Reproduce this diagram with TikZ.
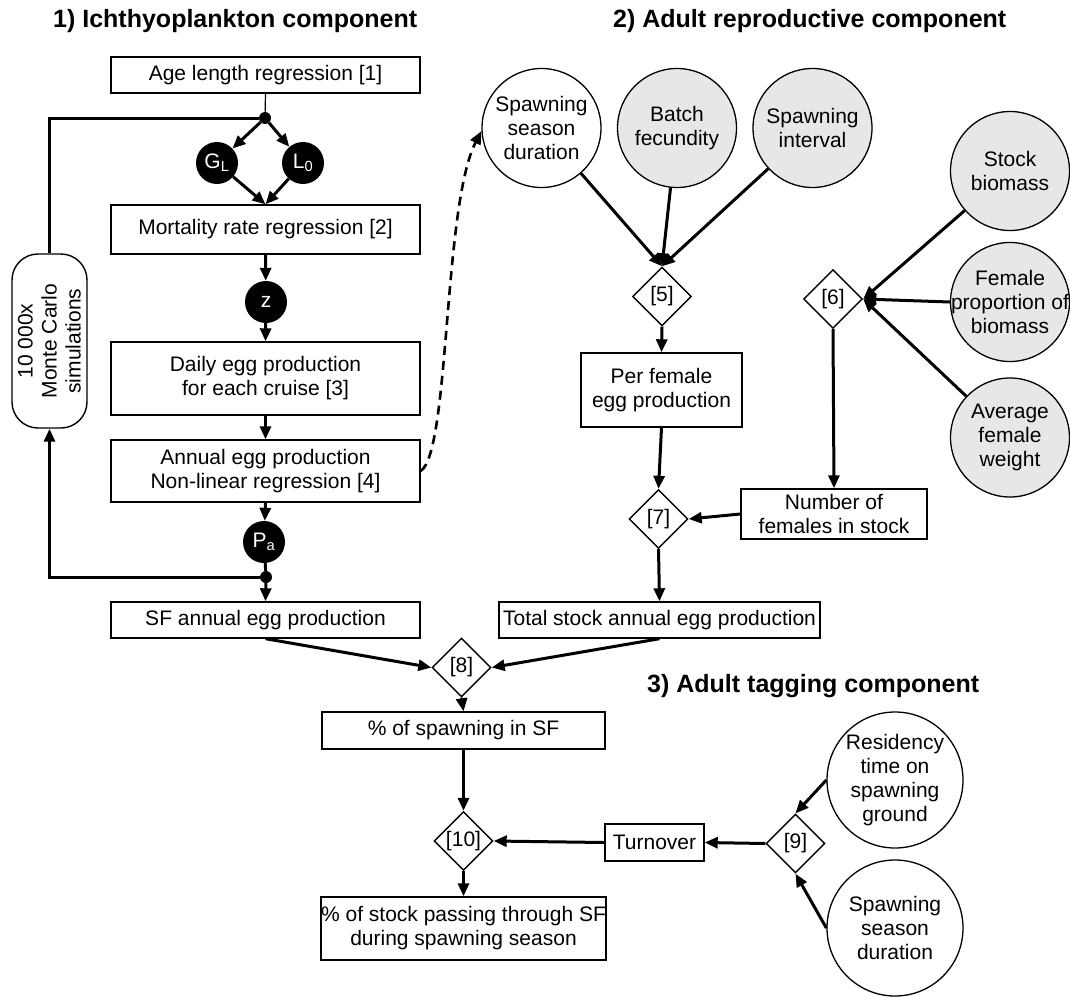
\documentclass[tikz,border=0pt]{standalone}
\usepackage{fontspec}
\setmainfont{Liberation Sans}
\usetikzlibrary{arrows.meta,shapes.geometric}
\definecolor{cgray}{RGB}{230,231,232}
\newcommand\mytxt{\fontsize{21}{24}\selectfont}
\newcommand\mytitle{\fontsize{25}{30}\selectfont\bfseries}
\begin{document}
\begin{tikzpicture}[x=1pt,y=-1pt,
  rbox/.style={draw, line width=1.4pt, inner sep=0pt, align=center, font=\mytxt},
  lab/.style={align=center, font=\mytxt, inner sep=0pt},
  circ/.style={circle, draw, line width=1.3pt, inner sep=0pt, minimum size=119pt, fill=white},
  gcirc/.style={circ, fill=cgray},
  bigcirc/.style={circle, draw, line width=1.3pt, inner sep=0pt, minimum size=136pt, fill=white},
  dia/.style={diamond, draw, line width=1.4pt, inner sep=0pt, minimum width=59pt, minimum height=59pt, font=\mytxt},
  bcirc/.style={circle, fill=black, inner sep=0pt, minimum size=42pt, text=white, font=\mytxt},
  jdot/.style={circle, fill=black, inner sep=0pt, minimum size=12pt},
  arr/.style={line width=3pt, -{Triangle[length=13pt,width=11pt]}},
  ln/.style={line width=3pt},
  ttl/.style={anchor=base west, font=\mytitle, inner sep=0pt}]
\useasboundingbox (0,0) rectangle (1070,996);

% titles
\node[ttl] (t1) at (53,27) {1) Ichthyoplankton component};
\node[ttl] (t2) at (613,27) {2) Adult reproductive component};
\node[ttl] (t3) at (647,692) {3) Adult tagging component};

% left column
\node[rbox, minimum width=309pt, minimum height=36pt] (age) at (265.5,75) {Age length regression [1]};
\node[jdot] (dot1) at (265,118) {};
\node[bcirc] (gl) at (217,163) {G\textsubscript{L}};
\node[bcirc] (l0) at (303,163) {L\textsubscript{0}};
\node[rbox, minimum width=309pt, minimum height=49pt] (mort) at (265.5,229.5) {Mortality rate regression [2]};
\node[bcirc] (z) at (266,302) {z};
\node[rbox, minimum width=309pt, minimum height=73pt] (daily) at (265.5,378.5) {Daily egg production\\for each cruise [3]};
\node[rbox, minimum width=309pt, minimum height=62pt] (annual) at (265.5,471) {Annual egg production\\Non-linear regression [4]};
\node[bcirc] (pa) at (264,542) {P\textsubscript{a}};
\node[jdot] (dot2) at (266,577) {};
\node[rbox, minimum width=309pt, minimum height=36pt] (sf) at (265.5,620) {SF annual egg production};
\node[draw, line width=1.4pt, rounded corners=26pt, rotate=90, minimum width=174pt, minimum height=75pt,
      inner sep=0pt, align=center, font=\mytxt] (mc) at (49.5,341) {10 000x\\Monte Carlo\\simulations};

\draw[line width=1.2pt] (age.south) -- (dot1);
\draw[arr] (dot1) -- (gl);
\draw[arr] (dot1) -- (l0);
\draw[arr] (gl) -- (mort.north);
\draw[arr] (l0) -- (mort.north);
\draw[arr] (mort.south) -- (z);
\draw[arr] (z) -- (daily.north);
\draw[arr] (daily.south) -- (annual.north);
\draw[arr] (annual.south) -- (pa);
\draw[ln] (pa) -- (dot2);
\draw[arr] (dot2) -- (sf.north);
\draw[ln] (dot1) -| (mc.east);
\draw[arr] (dot2) -| (mc.west);

% middle column
\node[circ, label={[lab]center:Spawning\\season\\duration}] (ssd) at (541.5,128) {};
\node[gcirc, label={[lab]center:Batch\\fecundity}] (bf) at (677,128) {};
\node[gcirc, label={[lab]center:Spawning\\interval}] (si) at (812.5,128) {};
\node[dia] (d5) at (662,296.5) {[5]};
\node[rbox, minimum width=161pt, minimum height=74pt] (pf) at (661.5,390) {Per female\\egg production};
\node[dia] (d7) at (658.5,519) {[7]};
\node[rbox, minimum width=321pt, minimum height=36pt] (total) at (659.5,620) {Total stock annual egg production};

\draw[dash pattern=on 9pt off 6pt, line width=2.6pt, -{Triangle[length=13pt,width=11pt]}]
  (annual.east) .. controls (450,452) and (443,205) .. (ssd.183);
\draw[arr] (ssd) -- (d5.north);
\draw[arr] (bf) -- (d5.north);
\draw[arr] (si) -- (d5.north);
\draw[arr] (d5.south) -- (pf.north);
\draw[arr] (pf.south) -- (d7.north);
\draw[arr] (d7.south) -- (total.north);

% right column
\node[gcirc, label={[lab]center:Stock\\biomass}] (sb) at (1010,171) {};
\node[gcirc, label={[lab]center:Female\\proportion of\\biomass}] (fp) at (1010,302) {};
\node[gcirc, label={[lab]center:Average\\female\\weight}] (afw) at (1010,437.5) {};
\node[dia] (d6) at (833,299) {[6]};
\node[rbox, minimum width=186pt, minimum height=50pt] (num) at (834,514) {Number of\\females in stock};

\draw[arr] (sb) -- (d6.east);
\draw[arr] (fp.west) -- (d6.east);
\draw[arr] (afw) -- (d6.east);
\draw[arr] (d6.south) -- (num.north);
\draw[arr] (num.west) -- (d7.east);

% bottom
\node[dia] (d8) at (461.5,667.5) {[8]};
\node[rbox, minimum width=283pt, minimum height=37pt] (pspawn) at (463.5,730.5) {\% of spawning in SF};
\node[dia] (d10) at (463.5,841) {[10]};
\node[rbox, minimum width=283pt, minimum height=63pt] (final) at (463.5,928.5) {\% of stock passing through SF\\during spawning season};
\node[rbox, minimum width=99pt, minimum height=37pt] (turn) at (654.5,842.5) {Turnover};
\node[dia] (d9) at (795.5,843.5) {[9]};
\node[bigcirc, label={[lab]center:Residency\\time on\\spawning\\ground}] (res) at (895,780) {};
\node[bigcirc, label={[lab]center:Spawning\\season\\duration}] (ssd2) at (895,928) {};

\draw[arr] (sf.south) -- (d8.west);
\draw[arr] (total.south) -- (d8.east);
\draw[arr] (d8.south) -- (pspawn.north);
\draw[arr] (pspawn.south) -- (d10.north);
\draw[arr] (d10.south) -- (final.north);
\draw[arr] (turn.west) -- (d10.east);
\draw[arr] (d9.west) -- (turn.east);
\draw[arr] (res.west) -- (d9.north);
\draw[arr] (ssd2.west) -- (d9.south);
\end{tikzpicture}
\end{document}
